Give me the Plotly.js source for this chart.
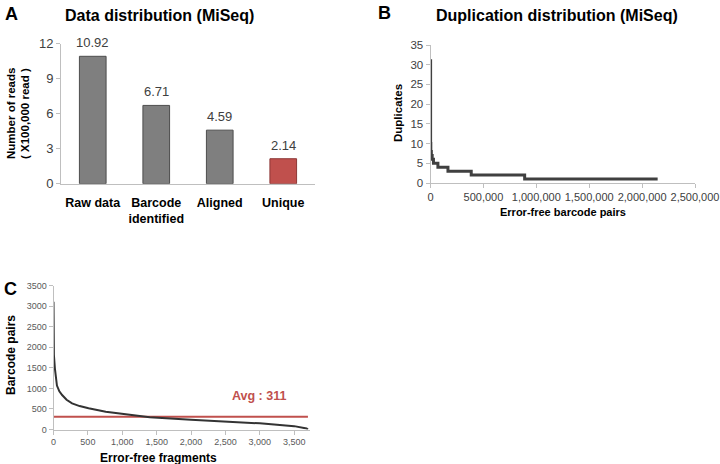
<!DOCTYPE html>
<html>
<head>
<meta charset="utf-8">
<script src="https://cdn.plot.ly/plotly-3.0.1.min.js"></script>
<style>
  html, body { margin: 0; padding: 0; background: #fff; }
  #chart { width: 720px; height: 464px; }
</style>
</head>
<body>
<div id="chart"></div>
<script>
// ---- Panel A: data distribution ----
const stageCategories = ["Raw data", "Barcode<br>identified", "Aligned", "Unique"];
const readsX100k = [10.92, 6.71, 4.59, 2.14];
const readLabels = ["10.92", "6.71", "4.59", "2.14"];
const barColors = ["#7f7f7f", "#7f7f7f", "#7f7f7f", "#c0504d"];
const barLineColors = ["#4d4d4d", "#4d4d4d", "#4d4d4d", "#8c3836"];

// ---- Panel B: duplication distribution (step curve) ----
const barcodePairs = [0, 1000, 3000, 8000, 16000, 28000, 70000, 165000, 385000, 890000, 2147000];
const duplicates   = [31, 10, 8, 7, 6, 5, 4, 3, 2, 1, 1];

// ---- Panel C: barcode pairs per error-free fragment ----
const fragments = [0, 2, 6, 20, 35, 50, 85, 125, 190, 270, 380, 510, 760, 1000, 1220, 1400, 2000, 2500, 3000, 3500, 3600, 3680, 3700];
const pairsPerFragment = [3110, 2500, 1810, 1490, 1220, 1070, 930, 840, 725, 635, 570, 515, 430, 375, 335, 300, 235, 190, 150, 82, 60, 25, 0];
const avgPairs = 311;
const avgLineX = [0, 3700];

const W = 720, H = 464;
const px = v => v / W;
const py = v => 1 - v / H;

const FONT = "Liberation Sans, Arial, sans-serif";
const AXIS_GRAY = "#bfbfbf";
const TICK_COLOR = "#404040";

const traces = [
  {
    type: "bar",
    x: stageCategories,
    y: readsX100k,
    marker: { color: barColors, line: { color: barLineColors, width: 1 } },
    width: 0.42,
    xaxis: "x", yaxis: "y",
    hoverinfo: "skip"
  },
  {
    type: "scatter", mode: "lines",
    x: barcodePairs, y: duplicates,
    line: { color: "#404040", width: 3, shape: "hv" },
    xaxis: "x2", yaxis: "y2",
    hoverinfo: "skip"
  },
  {
    type: "scatter", mode: "lines",
    x: avgLineX, y: avgLineX.map(() => avgPairs),
    line: { color: "#c0504d", width: 2 },
    xaxis: "x3", yaxis: "y3",
    hoverinfo: "skip"
  },
  {
    type: "scatter", mode: "lines",
    x: fragments, y: pairsPerFragment,
    line: { color: "#333333", width: 2 },
    xaxis: "x3", yaxis: "y3",
    hoverinfo: "skip"
  }
];

const annotations = [];
// value labels above bars
stageCategories.forEach((c, i) => {
  annotations.push({
    xref: "x", yref: "y", x: c, y: readsX100k[i],
    text: readLabels[i], showarrow: false,
    yanchor: "bottom", yshift: 4,
    font: { family: FONT, size: 13, color: "#404040" }
  });
});

function ann(text, x, y, opts) {
  annotations.push(Object.assign({
    xref: "paper", yref: "paper", x: px(x), y: py(y),
    text: text, showarrow: false, xanchor: "center", yanchor: "middle"
  }, opts));
}
// panel letters
ann("<b>A</b>", 11, 14, { font: { family: FONT, size: 18, color: "#000" } });
ann("<b>B</b>", 384, 13, { font: { family: FONT, size: 18, color: "#000" } });
ann("<b>C</b>", 10, 289, { font: { family: FONT, size: 18, color: "#000" } });
// titles
ann("<b>Data distribution (MiSeq)</b>", 159, 15, { font: { family: FONT, size: 16, color: "#000" } });
ann("<b>Duplication distribution (MiSeq)</b>", 557, 15, { font: { family: FONT, size: 16, color: "#000" } });
// axis titles
ann("<b>Number of reads</b>", 11, 114, { textangle: -90, font: { family: FONT, size: 11.5, color: "#000" } });
ann("<b>( X100,000 read )</b>", 25, 114, { textangle: -90, font: { family: FONT, size: 11.5, color: "#000" } });
ann("<b>Duplicates</b>", 398, 113, { textangle: -90, font: { family: FONT, size: 11.5, color: "#000" } });
ann("<b>Error-free barcode pairs</b>", 563, 212, { font: { family: FONT, size: 11, color: "#000" } });
ann("<b>Barcode pairs</b>", 11, 355, { textangle: -90, font: { family: FONT, size: 12, color: "#000" } });
ann("<b>Error-free fragments</b>", 158, 458, { font: { family: FONT, size: 12, color: "#000" } });
// average label
ann("<b>Avg : " + avgPairs + "</b>", 259, 396, { font: { family: FONT, size: 12.5, color: "#c0504d" } });

const baseAxis = {
  showgrid: false, zeroline: false, showline: true,
  linecolor: AXIS_GRAY, linewidth: 1,
  ticks: "outside", tickcolor: AXIS_GRAY, ticklen: 4,
  fixedrange: true
};

const layout = {
  width: W, height: H,
  margin: { l: 0, r: 0, t: 0, b: 0 },
  paper_bgcolor: "#fff", plot_bgcolor: "rgba(0,0,0,0)",
  showlegend: false,
  font: { family: FONT, color: TICK_COLOR },
  xaxis: Object.assign({}, baseAxis, {
    domain: [px(61), px(315)], anchor: "y",
    ticks: "", tickfont: { family: FONT, size: 12.5, color: "#000", weight: "bold" },
    ticklabelstandoff: 7
  }),
  yaxis: Object.assign({}, baseAxis, {
    domain: [py(183.7), py(43.7)], anchor: "x",
    range: [0, 12], tickvals: [0, 3, 6, 9, 12],
    tickfont: { family: FONT, size: 13, color: TICK_COLOR }
  }),
  xaxis2: Object.assign({}, baseAxis, {
    domain: [px(430.5), px(695)], anchor: "y2",
    range: [0, 2500000], tickvals: [0, 500000, 1000000, 1500000, 2000000, 2500000],
    ticktext: ["0", "500,000", "1,000,000", "1,500,000", "2,000,000", "2,500,000"],
    tickfont: { family: FONT, size: 11, color: TICK_COLOR }
  }),
  yaxis2: Object.assign({}, baseAxis, {
    domain: [py(183), py(45)], anchor: "x2",
    range: [0, 35], tickvals: [0, 5, 10, 15, 20, 25, 30, 35],
    tickfont: { family: FONT, size: 11.5, color: TICK_COLOR }
  }),
  xaxis3: Object.assign({}, baseAxis, {
    domain: [px(53.5), px(310)], anchor: "y3",
    range: [0, 3730], tickvals: [0, 500, 1000, 1500, 2000, 2500, 3000, 3500],
    ticktext: ["0", "500", "1,000", "1,500", "2,000", "2,500", "3,000", "3,500"],
    tickfont: { family: FONT, size: 9, color: "#595959" }
  }),
  yaxis3: Object.assign({}, baseAxis, {
    domain: [py(429.5), py(285.7)], anchor: "x3",
    range: [0, 3500], tickvals: [0, 500, 1000, 1500, 2000, 2500, 3000, 3500],
    tickfont: { family: FONT, size: 9, color: "#595959" }
  }),
  annotations: annotations
};

Plotly.newPlot("chart", traces, layout, { staticPlot: true, displayModeBar: false });
</script>
</body>
</html>
